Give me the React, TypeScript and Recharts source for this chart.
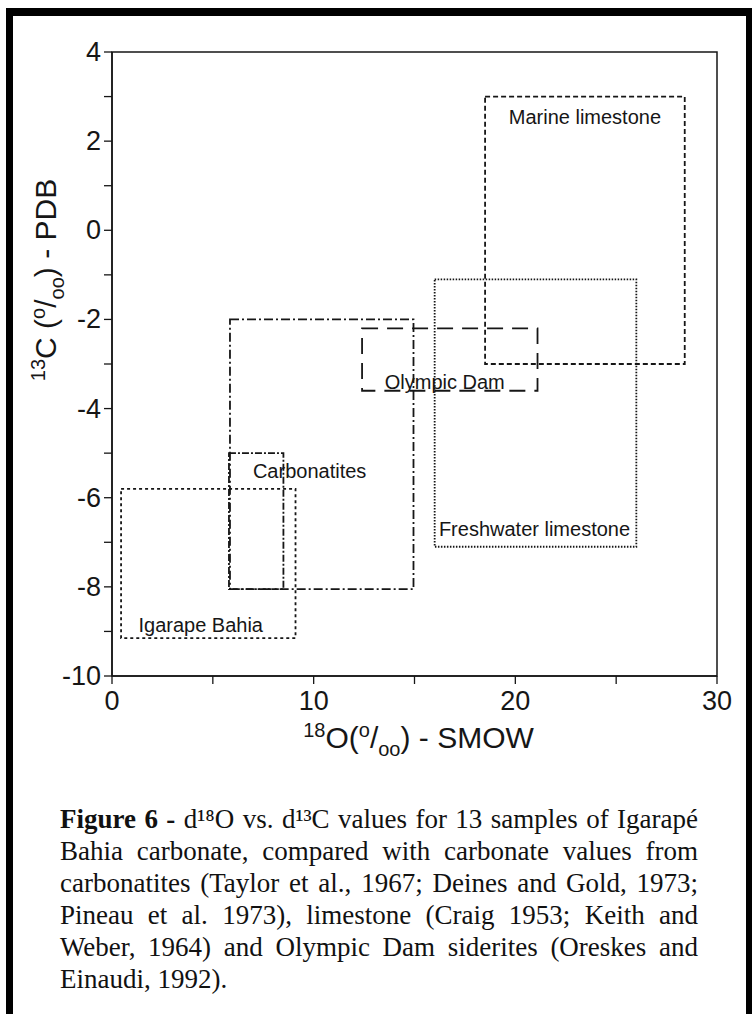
import { ScatterChart, Scatter, XAxis, YAxis, ReferenceArea, Label } from 'recharts'

// isotope fields (per mil): d18O range on x, d13C range on y
const regionNames = ['Marine limestone', 'Freshwater limestone', 'Olympic Dam', 'Carbonatites', 'Carbonatites (inner)', 'Igarape Bahia']
const regionX1 = [18.5, 16.0, 12.4, 5.85, 5.8, 0.45]
const regionX2 = [28.4, 26.0, 21.1, 14.95, 8.5, 9.1]
const regionY1 = [-3.0, -7.1, -3.6, -8.05, -8.05, -9.15]
const regionY2 = [3.0, -1.1, -2.2, -2.0, -5.0, -5.8]
const regionDash = ['5 3', '1.5 1.5', '16 9', '9 3 2 3', '7 2 2 2', '3 3']

const labelNames = ['Marine limestone', 'Freshwater limestone', 'Olympic Dam', 'Carbonatites', 'Igarape Bahia']
const labelX = [23.45, 20.95, 16.5, 9.8, 4.4]
const labelY = [2.55, -6.7, -3.4, -5.4, -8.85]

const xTicks = [0, 5, 10, 15, 20, 25, 30]
const xTickLabels = ['0', '', '10', '', '20', '', '30']
const yTicks = [-10, -9, -8, -7, -6, -5, -4, -3, -2, -1, 0, 1, 2, 3, 4]
const yTickLabels = ['-10', '', '-8', '', '-6', '', '-4', '', '-2', '', '0', '', '2', '', '4']

const captionLines = [
  'd¹⁸O vs. d¹³C values for 13 samples of Igarapé',
  'Bahia carbonate, compared with carbonate values from',
  'carbonatites (Taylor et al., 1967; Deines and Gold, 1973;',
  'Pineau et al. 1973), limestone (Craig 1953; Keith and',
  'Weber, 1964) and Olympic Dam siderites (Oreskes and',
  'Einaudi, 1992).',
]

const sans = '"Liberation Sans", Arial, sans-serif'
const serif = '"Liberation Serif", "Times New Roman", serif'
const ink = '#161616'

const labelPoints = labelNames.map((name, i) => ({ x: labelX[i], y: labelY[i], name }))

const XTick = (props: any) => {
  const { x, y, payload } = props
  const t = xTickLabels[xTicks.indexOf(payload.value)]
  if (!t) return null
  return (
    <text x={x} y={y} dy={24} textAnchor="middle" fontSize={27} fontFamily={sans} fill={ink}>
      {t}
    </text>
  )
}

const YTick = (props: any) => {
  const { x, y, payload } = props
  const t = yTickLabels[yTicks.indexOf(payload.value)]
  if (!t) return null
  return (
    <text x={x - 1} y={y} dy={9} textAnchor="end" fontSize={27} fontFamily={sans} fill={ink}>
      {t}
    </text>
  )
}

const XTitle = (props: any) => {
  const vb = props.viewBox
  const cx = vb.x + vb.width / 2 + 4
  const y = vb.y + 72
  return (
    <text x={cx} y={y} textAnchor="middle" fontSize={30} fontFamily={sans} fill={ink}>
      <tspan fontSize={20} dy={-11}>18</tspan>
      <tspan dy={11}>O(</tspan>
      <tspan fontSize={20} dy={-11}>o</tspan>
      <tspan dy={11}>/</tspan>
      <tspan fontSize={20} dy={8}>oo</tspan>
      <tspan dy={-8}>) - SMOW</tspan>
    </text>
  )
}

const YTitle = (props: any) => {
  const vb = props.viewBox
  const cx = vb.x + 45
  const cy = vb.y + 228
  return (
    <text
      x={cx}
      y={cy}
      dy={11}
      transform={`rotate(-90, ${cx}, ${cy})`}
      textAnchor="middle"
      fontSize={30}
      fontFamily={sans}
      fill={ink}
    >
      <tspan fontSize={20} dy={0}>13</tspan>
      <tspan dy={11}>C (</tspan>
      <tspan fontSize={20} dy={-11}>o</tspan>
      <tspan dy={11}>/</tspan>
      <tspan fontSize={20} dy={8}>oo</tspan>
      <tspan dy={-8}>) - PDB</tspan>
    </text>
  )
}

const LabelShape = (props: any) => (
  <text
    x={props.cx}
    y={props.cy}
    dy={7}
    textAnchor="middle"
    fontSize={20}
    fontFamily={sans}
    fill={ink}
  >
    {props.payload.name}
  </text>
)

export default function App() {
  return (
    <div style={{ position: 'absolute', left: 0, top: 0, width: 752, height: 1014, background: '#fff', overflow: 'hidden' }}>
      {/* heavy frame of the scanned figure */}
      <div style={{ position: 'absolute', left: 6, top: 8, width: 746, height: 8, background: '#000' }} />
      <div style={{ position: 'absolute', left: 6, top: 8, width: 7, height: 1006, background: '#000' }} />
      <div style={{ position: 'absolute', left: 746, top: 8, width: 6, height: 1006, background: '#000' }} />

      <div style={{ position: 'absolute', left: 0, top: 0 }}>
        <ScatterChart width={752} height={760} margin={{ top: 52, right: 35, left: 0, bottom: 0 }}>
          <XAxis
            type="number"
            dataKey="x"
            domain={[0, 30]}
            ticks={xTicks}
            interval={0}
            tickSize={8}
            tick={<XTick />}
            tickLine={{ stroke: ink, strokeWidth: 1.3 }}
            axisLine={{ stroke: ink, strokeWidth: 1.5 }}
            height={84}
            allowDataOverflow
          >
            <Label content={<XTitle />} />
          </XAxis>
          <YAxis
            type="number"
            dataKey="y"
            domain={[-10, 4]}
            ticks={yTicks}
            interval={0}
            tickSize={8}
            tick={<YTick />}
            tickLine={{ stroke: ink, strokeWidth: 1.3 }}
            axisLine={{ stroke: ink, strokeWidth: 1.5 }}
            width={112}
            allowDataOverflow
          >
            <Label content={<YTitle />} />
          </YAxis>
          <ReferenceArea x1={0} x2={30} y1={-10} y2={4} stroke={ink} strokeWidth={1.5} fill="none" fillOpacity={0} />
          {regionNames.map((name, i) => (
            <ReferenceArea
              key={name}
              x1={regionX1[i]}
              x2={regionX2[i]}
              y1={regionY1[i]}
              y2={regionY2[i]}
              stroke={ink}
              strokeWidth={1.8}
              strokeDasharray={regionDash[i]}
              fill="none"
              fillOpacity={0}
            />
          ))}
          <Scatter data={labelPoints} shape={<LabelShape />} isAnimationActive={false} />
        </ScatterChart>
      </div>

      <div
        style={{
          position: 'absolute',
          left: 60,
          top: 803,
          width: 638,
          fontFamily: serif,
          fontSize: 27,
          lineHeight: '32px',
          color: '#111',
        }}
      >
        {captionLines.map((line, i) => (
          <div
            key={i}
            style={{ textAlign: 'justify', textAlignLast: i === captionLines.length - 1 ? 'left' : 'justify' }}
          >
            {i === 0 && <b>Figure 6 - </b>}
            {line}
          </div>
        ))}
      </div>
    </div>
  )
}
